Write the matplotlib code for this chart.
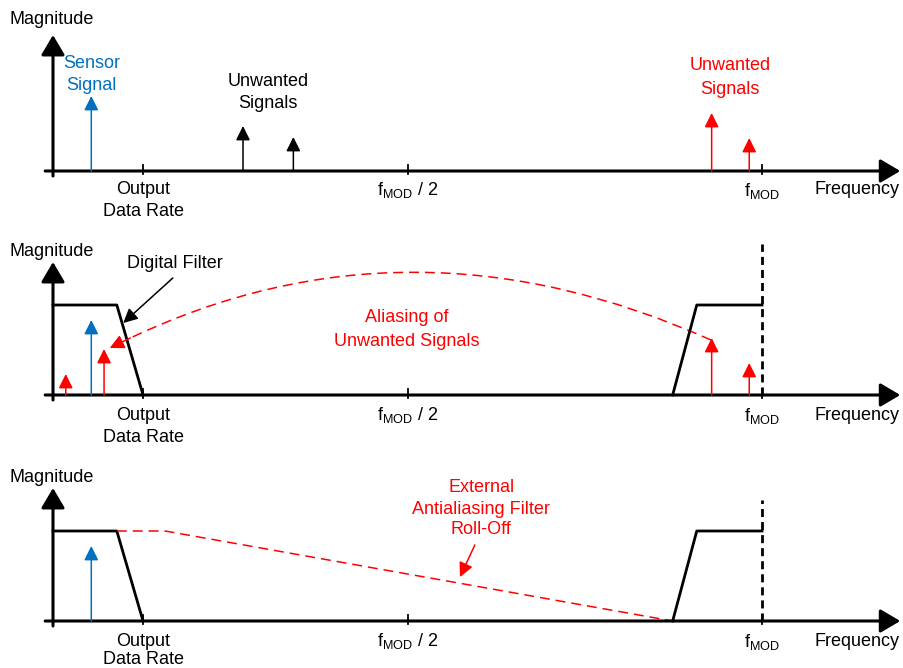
import matplotlib.pyplot as plt
from matplotlib.path import Path
from matplotlib.patches import PathPatch

plt.rcParams['font.family'] = ['Liberation Sans', 'DejaVu Sans']
plt.rcParams['mathtext.fontset'] = 'custom'
plt.rcParams['mathtext.rm'] = 'Liberation Sans'

BLUE = '#0070C0'
RED = '#FF0000'
FS = 13

# frequency in units of f_MOD, magnitude in arbitrary units
tick_freqs = [0.127, 0.5, 1.0]
axis_end = 1.195

# panel 1: input spectrum
p1_blue_f = [0.054]
p1_blue_mag = [75]
p1_black_f = [0.268, 0.339]
p1_black_mag = [45, 34]
p1_red_f = [0.929, 0.982]
p1_red_mag = [58, 33]

# panel 2: digital filter with aliasing
p2_blue_f = [0.054]
p2_blue_mag = [75]
p2_red_f = [0.018, 0.072, 0.929, 0.982]
p2_red_mag = [21, 46, 57, 32]
filt_low_f = [0.0, 0.090, 0.127]
filt_low_mag = [90, 90, 0]
filt_high_f = [0.874, 0.908, 1.0]
filt_high_mag = [0, 90, 90]
alias_curve_f = [0.928, 0.503, 0.106]
alias_curve_mag = [55, 190, 56]

# panel 3: external antialiasing filter
p3_blue_f = [0.054]
p3_blue_mag = [75]
rolloff_f = [0.090, 0.158, 0.874]
rolloff_mag = [90, 90, 0]

# pixel layout of the three panels: (top, bottom, baseline)
panels = [(0, 225, 171), (225, 450, 395), (450, 668, 621)]
axis_tops = [136, 133, 133]

W, H = 904, 668
x0, x1 = 53, 762
fig = plt.figure(figsize=(9.04, 6.68), dpi=100)
axes = []
for top, bot, base in panels:
    ax = fig.add_axes([0, 1 - bot / H, 1, (bot - top) / H])
    ax.set_xlim(-x0 / (x1 - x0), (W - x0) / (x1 - x0))
    ax.set_ylim(base - bot, base - top)
    ax.axis('off')
    axes.append(ax)


def label(ax, x, y, s, color='black'):
    # text is vertically centred a little low, like the original drawing
    ax.text(x, y - 2, s, color=color, fontsize=FS, ha='center', va='center')


def arrow(ax, x, y, xt, yt, color, lw=1.1, hl=0.86, hw=0.43, ms=10):
    ax.annotate('', xy=(x, y), xytext=(xt, yt),
                arrowprops=dict(arrowstyle='-|>,head_length=%g,head_width=%g' % (hl, hw),
                                mutation_scale=ms, lw=lw, color=color,
                                shrinkA=0, shrinkB=0))


def signals(ax, freqs, mags, color):
    for f, m in zip(freqs, mags):
        arrow(ax, f, m, f, 0, color)


def frame(ax, top_h, ylab_h, lab_off, gap=22):
    arrow(ax, axis_end, 0, -0.011, 0, 'black', lw=2.2, hl=1.22, hw=0.72)
    arrow(ax, 0, top_h, 0, -5, 'black', lw=2.2, hl=1.22, hw=0.72)
    for f in tick_freqs:
        ax.plot([f, f], [-3, 6], color='black', lw=1.3)
    ax.text(-0.061, ylab_h - 2, 'Magnitude', fontsize=FS, ha='left', va='center')
    label(ax, tick_freqs[0], -lab_off, 'Output')
    label(ax, tick_freqs[0], -lab_off - gap, 'Data Rate')
    label(ax, tick_freqs[1], -lab_off, r'$\mathregular{f_{MOD}}$ / 2')
    label(ax, tick_freqs[2], -lab_off - 1, r'$\mathregular{f_{MOD}}$')
    label(ax, 1.134, -lab_off, 'Frequency')


# panel 1
ax = axes[0]
frame(ax, axis_tops[0], 153, 17)
signals(ax, p1_blue_f, p1_blue_mag, BLUE)
signals(ax, p1_black_f, p1_black_mag, 'black')
signals(ax, p1_red_f, p1_red_mag, RED)
label(ax, 0.054, 109, 'Sensor', BLUE)
label(ax, 0.054, 88, 'Signal', BLUE)
label(ax, 0.303, 91, 'Unwanted')
label(ax, 0.303, 69, 'Signals')
label(ax, 0.955, 107, 'Unwanted', RED)
label(ax, 0.955, 84, 'Signals', RED)

# panel 2
ax = axes[1]
frame(ax, axis_tops[1], 146, 18)
ax.plot(filt_low_f, filt_low_mag, color='black', lw=2)
ax.plot(filt_high_f, filt_high_mag, color='black', lw=2)
ax.plot([1.0, 1.0], [0, 151], color='black', lw=2, linestyle=(0, (2.9, 1.8)))
signals(ax, p2_red_f, p2_red_mag, RED)
signals(ax, p2_blue_f, p2_blue_mag, BLUE)
curve = Path(list(zip(alias_curve_f, alias_curve_mag)),
             [Path.MOVETO, Path.CURVE3, Path.CURVE3])
ax.add_patch(PathPatch(curve, fill=False, edgecolor=RED, lw=1.1,
                       linestyle=(0, (6.5, 3.9))))
arrow(ax, 0.080, 47, 0.109, 57, RED)
label(ax, 0.172, 134, 'Digital Filter')
arrow(ax, 0.099, 72, 0.169, 117, 'black', lw=1.1)
label(ax, 0.499, 79, 'Aliasing of', RED)
label(ax, 0.499, 56, 'Unwanted Signals', RED)

# panel 3
ax = axes[2]
frame(ax, axis_tops[2], 146, 18, gap=18)
ax.plot(filt_low_f, filt_low_mag, color='black', lw=2)
ax.plot(filt_high_f, filt_high_mag, color='black', lw=2)
ax.plot([1.0, 1.0], [0, 121], color='black', lw=2, linestyle=(0, (2.9, 1.8)))
ax.plot(rolloff_f, rolloff_mag, color=RED, lw=1.1, linestyle=(0, (6.5, 3.9)))
signals(ax, p3_blue_f, p3_blue_mag, BLUE)
label(ax, 0.604, 136, 'External', RED)
label(ax, 0.604, 114, 'Antialiasing Filter', RED)
label(ax, 0.604, 93, 'Roll-Off', RED)
arrow(ax, 0.574, 44, 0.595, 76, RED)

fig.savefig('out.png', dpi=100)
